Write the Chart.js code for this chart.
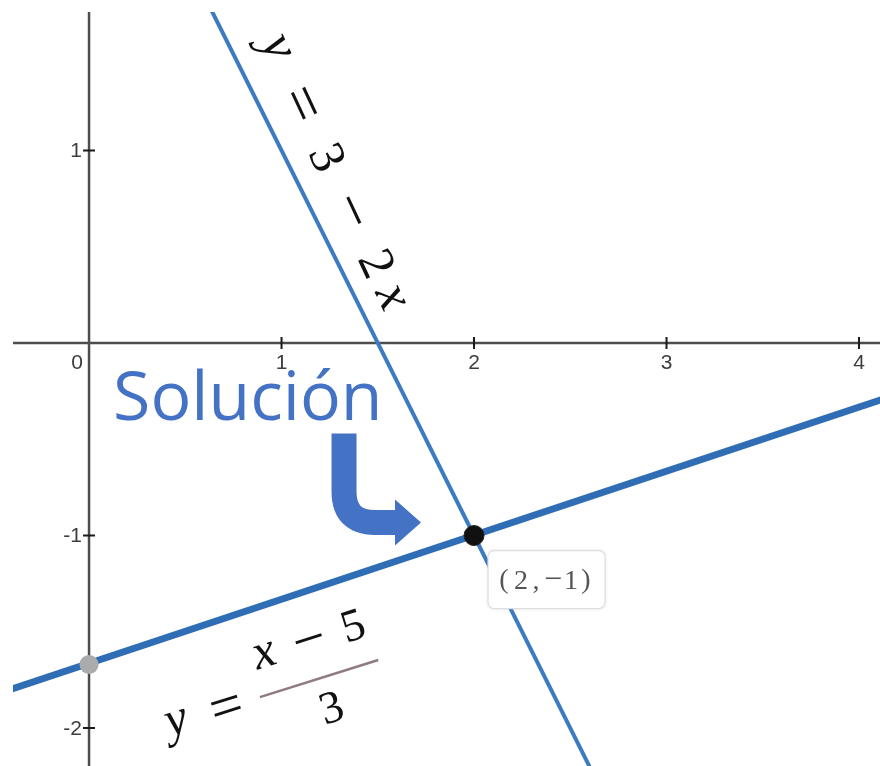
<!DOCTYPE html>
<html>
<head>
<meta charset="utf-8">
<script src="https://cdn.jsdelivr.net/npm/chart.js@4.4.1/dist/chart.umd.min.js"></script>
<style>
  html, body { margin: 0; padding: 0; background: #fff; overflow: hidden; }
  #wrap { width: 880px; height: 766px; position: relative; }
  #myChart { display: block; }
</style>
</head>
<body>
<div id="wrap"><canvas id="myChart"></canvas></div>
<script>
// y = 3 - 2x, two points read at the edges of the picture
const steepX = [0.6, 2.6];
const steepY = [1.8, -2.2];
// y = (x - 5) / 3
const shallowX = [-0.5, 4.25];
const shallowY = [-1.83, -0.25];
// marked points
const solutionX = [2];
const solutionY = [-1];
const interceptX = [0];
const interceptY = [-1.67];
// axis ticks
const xTicks = [1, 2, 3, 4];
const xLabels = ["1", "2", "3", "4"];
const yTicks = [1, -1, -2];
const yLabels = ["1", "-1", "-2"];
const originLabel = "0";
// visible window
const xRange = [-0.395, 4.109];
const yRange = [-2.197, 1.719];
// texts
const title = "Solución";
const titleAt = [0.125, -0.4];
const eqSteepAt = [1.283, 0.836];
const eqShallowAt = [1.195, -1.743];

const serif = "'Liberation Serif', 'DejaVu Serif', serif";

function toPoints(xs, ys) {
  return xs.map((x, i) => ({ x: x, y: ys[i] }));
}

function drawGlyphs(ctx, glyphs) {
  glyphs.forEach((g) => {
    ctx.font = g.f;
    ctx.fillText(g.t, g.u, g.v);
  });
}

const axesPlugin = {
  id: "axes",
  beforeDatasetsDraw(chart) {
    const { ctx, chartArea, scales } = chart;
    const x0 = scales.x.getPixelForValue(0);
    const y0 = scales.y.getPixelForValue(0);
    ctx.save();
    ctx.strokeStyle = "#4d4d4d";
    ctx.lineWidth = 2.5;
    ctx.beginPath();
    ctx.moveTo(chartArea.left, y0);
    ctx.lineTo(chartArea.right, y0);
    ctx.moveTo(x0, chartArea.top);
    ctx.lineTo(x0, chartArea.bottom);
    ctx.stroke();

    ctx.strokeStyle = "#1a1a1a";
    ctx.lineWidth = 2;
    ctx.beginPath();
    xTicks.forEach((v) => {
      const px = scales.x.getPixelForValue(v);
      ctx.moveTo(px, y0 - 6);
      ctx.lineTo(px, y0 + 6);
    });
    yTicks.forEach((v) => {
      const py = scales.y.getPixelForValue(v);
      ctx.moveTo(x0 - 6, py);
      ctx.lineTo(x0 + 6, py);
    });
    ctx.stroke();

    ctx.fillStyle = "#3d3d3d";
    ctx.font = "21px 'Liberation Sans', Arial, sans-serif";
    ctx.textAlign = "center";
    ctx.textBaseline = "middle";
    xTicks.forEach((v, i) => {
      ctx.fillText(xLabels[i], scales.x.getPixelForValue(v), y0 + 20);
    });
    ctx.textAlign = "right";
    yTicks.forEach((v, i) => {
      ctx.fillText(yLabels[i], x0 - 7, scales.y.getPixelForValue(v) + 1);
    });
    ctx.fillText(originLabel, x0 - 6, y0 + 20);
    ctx.restore();
  },
};

const notesPlugin = {
  id: "notes",
  afterDatasetsDraw(chart) {
    const { ctx, scales } = chart;
    const px = (v) => scales.x.getPixelForValue(v);
    const py = (v) => scales.y.getPixelForValue(v);
    const P = { x: px(solutionX[0]), y: py(solutionY[0]) };

    ctx.save();
    // label box for the solution point
    ctx.save();
    ctx.shadowColor = "rgba(0,0,0,0.12)";
    ctx.shadowBlur = 4;
    ctx.fillStyle = "#fff";
    ctx.strokeStyle = "#dedede";
    ctx.lineWidth = 1.2;
    ctx.beginPath();
    ctx.roundRect(P.x + 14, P.y + 15, 117, 58, 6);
    ctx.fill();
    ctx.shadowColor = "transparent";
    ctx.stroke();
    ctx.restore();

    ctx.fillStyle = "#555";
    ctx.textAlign = "center";
    ctx.textBaseline = "middle";
    ctx.save();
    ctx.translate(P.x + 73, P.y + 45);
    const f28 = "28px " + serif;
    const op28 = "32px " + serif;
    drawGlyphs(ctx, [
      { t: "(", f: f28, u: -43, v: 0 },
      { t: "2", f: f28, u: -26, v: 1 },
      { t: ",", f: f28, u: -11, v: 1 },
      { t: "\u2212", f: op28, u: 6, v: 0 },
      { t: "1", f: f28, u: 24, v: 1 },
      { t: ")", f: f28, u: 39, v: 0 },
    ]);
    ctx.restore();

    // "Solución"
    ctx.fillStyle = "#4472c4";
    ctx.textAlign = "left";
    ctx.textBaseline = "alphabetic";
    ctx.font = "68px 'Open Sans', Lato, sans-serif";
    ctx.fillText(title, px(titleAt[0]), py(titleAt[1]));

    // bent arrow pointing at the solution
    const T = { x: P.x - 53, y: P.y - 14 };
    ctx.strokeStyle = "#4472c4";
    ctx.lineWidth = 25;
    ctx.lineCap = "butt";
    ctx.beginPath();
    ctx.moveTo(T.x - 77, T.y - 88);
    ctx.lineTo(T.x - 77, T.y - 30);
    ctx.quadraticCurveTo(T.x - 77, T.y + 1, T.x - 46, T.y + 1);
    ctx.lineTo(T.x - 24, T.y + 1);
    ctx.stroke();
    ctx.beginPath();
    ctx.moveTo(T.x - 26, T.y - 22);
    ctx.lineTo(T.x, T.y + 1);
    ctx.lineTo(T.x - 26, T.y + 24);
    ctx.closePath();
    ctx.fill();

    // y = 3 - 2x along the steep line
    ctx.fillStyle = "#111";
    ctx.textAlign = "center";
    ctx.textBaseline = "middle";
    ctx.save();
    ctx.translate(px(eqSteepAt[0]), py(eqSteepAt[1]));
    ctx.rotate((65 * Math.PI) / 180);
    const it50 = "italic 52px " + serif;
    const up50 = "50px " + serif;
    const op50 = "62px " + serif;
    drawGlyphs(ctx, [
      { t: "y", f: it50, u: -147, v: -4 },
      { t: "=", f: op50, u: -85, v: 0 },
      { t: "3", f: up50, u: -26, v: 0 },
      { t: "\u2212", f: op50, u: 33, v: 0 },
      { t: "2", f: up50, u: 91, v: 0 },
      { t: "x", f: it50, u: 128, v: -2 },
    ]);
    ctx.restore();

    // y = (x - 5) / 3 under the shallow line
    ctx.save();
    ctx.translate(px(eqShallowAt[0]), py(eqShallowAt[1]));
    ctx.rotate((-17.4 * Math.PI) / 180);
    ctx.strokeStyle = "#8e7a80";
    ctx.lineWidth = 2.5;
    ctx.beginPath();
    ctx.moveTo(-62, 0);
    ctx.lineTo(62, 0);
    ctx.stroke();
    const it46 = "italic 50px " + serif;
    const up46 = "46px " + serif;
    const op46 = "58px " + serif;
    drawGlyphs(ctx, [
      { t: "y", f: it46, u: -149, v: -2 },
      { t: "=", f: op46, u: -97, v: 2 },
      { t: "x", f: it46, u: -45, v: -40 },
      { t: "\u2212", f: op46, u: 2, v: -37 },
      { t: "5", f: up46, u: 48, v: -38 },
      { t: "3", f: up46, u: 3, v: 34 },
    ]);
    ctx.restore();
    ctx.restore();
  },
};

new Chart(document.getElementById("myChart"), {
  type: "scatter",
  data: {
    datasets: [
      {
        label: "solution",
        data: toPoints(solutionX, solutionY),
        pointRadius: 10,
        pointBackgroundColor: "#111",
        pointBorderColor: "#222",
        pointBorderWidth: 1,
        order: 0,
      },
      {
        label: "intercept",
        data: toPoints(interceptX, interceptY),
        pointRadius: 9.5,
        pointBackgroundColor: "#a9abad",
        pointBorderColor: "#a9abad",
        pointBorderWidth: 0,
        order: 0,
      },
      {
        label: "y = (x - 5) / 3",
        data: toPoints(shallowX, shallowY),
        showLine: true,
        borderColor: "#2f6db5",
        borderWidth: 7,
        pointRadius: 0,
        clip: 0,
        order: 1,
      },
      {
        label: "y = 3 - 2x",
        data: toPoints(steepX, steepY),
        showLine: true,
        borderColor: "#3b7bbf",
        borderWidth: 4,
        pointRadius: 0,
        clip: 0,
        order: 2,
      },
    ],
  },
  options: {
    responsive: true,
    maintainAspectRatio: false,
    animation: false,
    layout: { autoPadding: false, padding: { left: 13, top: 12, right: 0, bottom: 0 } },
    plugins: { legend: { display: false }, tooltip: { enabled: false } },
    scales: {
      x: { type: "linear", min: xRange[0], max: xRange[1], display: false },
      y: { type: "linear", min: yRange[0], max: yRange[1], display: false },
    },
  },
  plugins: [axesPlugin, notesPlugin],
});
</script>
</body>
</html>
